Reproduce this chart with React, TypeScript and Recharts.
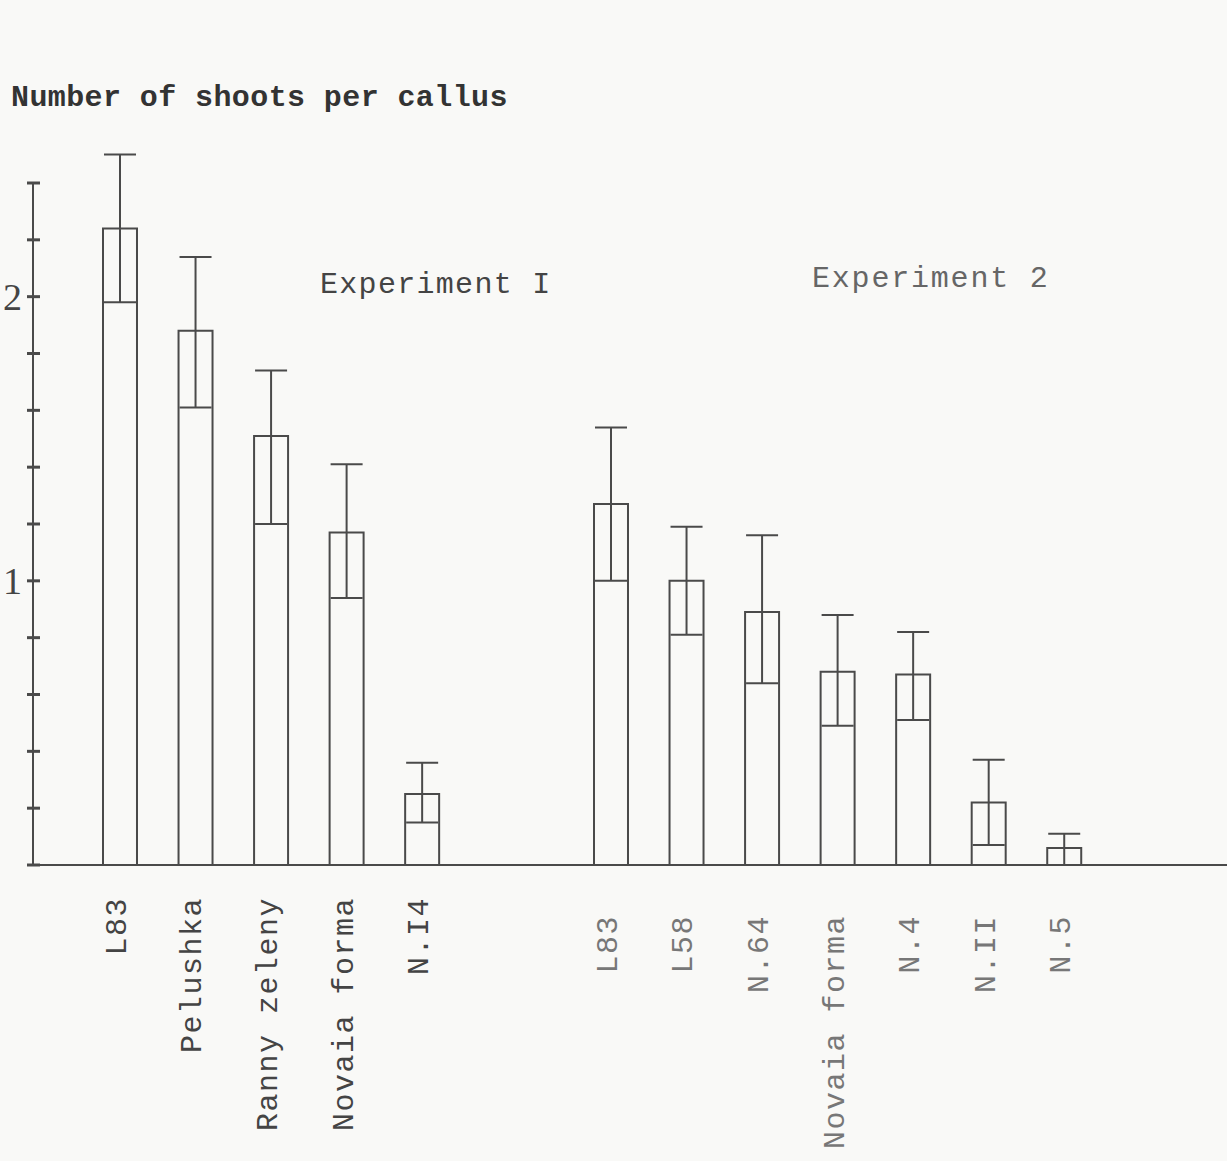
import { BarChart, Bar, XAxis, YAxis, ErrorBar, Customized } from "recharts"

const MONO = "'Liberation Mono', 'DejaVu Sans Mono', monospace"
const INK = "#4a4a4a"

// Experiment I
const EXP1_NAMES = ["L83", "Pelushka", "Ranny zeleny", "Novaia forma", "N.I4"]
const EXP1_MEAN = [2.24, 1.88, 1.51, 1.17, 0.25]
const EXP1_LOW = [1.98, 1.61, 1.2, 0.94, 0.15]
const EXP1_HIGH = [2.5, 2.14, 1.74, 1.41, 0.36]

// Experiment 2
const EXP2_NAMES = ["L83", "L58", "N.64", "Novaia forma", "N.4", "N.II", "N.5"]
const EXP2_MEAN = [1.27, 1.0, 0.89, 0.68, 0.67, 0.22, 0.06]
const EXP2_LOW = [1.0, 0.81, 0.64, 0.49, 0.51, 0.07, 0.0]
const EXP2_HIGH = [1.54, 1.19, 1.16, 0.88, 0.82, 0.37, 0.11]

const Y_TICKS = [0, 0.2, 0.4, 0.6, 0.8, 1, 1.2, 1.4, 1.6, 1.8, 2, 2.2, 2.4]
const Y_LABELS = [1, 2]

interface Row {
  name: string
  exp: number
  mean: number | null
  err: [number, number] | null
}

const spacer = (): Row => ({ name: "", exp: 0, mean: null, err: null })

const toRows = (names: string[], mean: number[], low: number[], high: number[], exp: number) =>
  names.map((name, i) => ({
    name,
    exp,
    mean: mean[i],
    err: [mean[i] - low[i], high[i] - mean[i]] as [number, number],
  }))

// bars sit on every other slot, with a wider gap between the two experiments
const rows: Row[] = []
toRows(EXP1_NAMES, EXP1_MEAN, EXP1_LOW, EXP1_HIGH, 1).forEach((r) => rows.push(r, spacer()))
rows.push(spacer(), spacer(), spacer())
toRows(EXP2_NAMES, EXP2_MEAN, EXP2_LOW, EXP2_HIGH, 2).forEach((r, i, a) => {
  rows.push(r)
  if (i < a.length - 1) rows.push(spacer())
})

function XTick(props: any) {
  const { x, payload } = props
  const row = rows[payload.index]
  if (!row || !row.name) return null
  const tx = x + 6
  const ty = row.exp === 1 ? 897 : 915
  return (
    <text
      x={tx}
      y={ty}
      transform={`rotate(-90, ${tx}, ${ty})`}
      textAnchor="end"
      fontFamily={MONO}
      fontSize={30}
      letterSpacing={1.5}
      fill={row.exp === 1 ? "#444" : "#777"}
    >
      {row.name}
    </text>
  )
}

function YTick(props: any) {
  const { x, y, payload } = props
  return (
    <g>
      <line x1={x - 6} x2={x + 7} y1={y} y2={y} stroke={INK} strokeWidth={3} />
      {Y_LABELS.includes(payload.value) && (
        <text x={3} y={y + 13} fontFamily="'Liberation Serif', serif" fontSize={38} fill="#444">
          {payload.value}
        </text>
      )}
    </g>
  )
}

function Annotations() {
  return (
    <g fontFamily={MONO}>
      <text x={11} y={106} fontSize={30} fontWeight="bold" letterSpacing={0.4} fill="#333">
        Number of shoots per callus
      </text>
      <text x={320} y={293} fontSize={30} letterSpacing={1.3} fill="#444">
        Experiment I
      </text>
      <text x={812} y={287} fontSize={30} letterSpacing={1.8} fill="#666">
        Experiment 2
      </text>
    </g>
  )
}

export default function App() {
  return (
    <div style={{ position: "absolute", left: 0, top: 0, width: 1227, height: 1161, background: "#f9f9f7" }}>
      <BarChart width={1227} height={1161} data={rows} margin={{ top: 183, right: 0, bottom: 0, left: 0 }}>
        <XAxis
          dataKey="name"
          interval={0}
          height={296}
          padding={{ left: 68, right: 144 }}
          tickLine={false}
          tickSize={0}
          tick={XTick}
          axisLine={{ stroke: INK, strokeWidth: 2 }}
        />
        <YAxis
          width={33}
          domain={[0, 2.4]}
          allowDataOverflow
          ticks={Y_TICKS}
          interval={0}
          tickLine={false}
          tickSize={0}
          tickMargin={0}
          tick={YTick}
          axisLine={{ stroke: INK, strokeWidth: 2 }}
        />
        <Bar dataKey="mean" barSize={38} fill="none" stroke={INK} strokeWidth={2} isAnimationActive={false}>
          <ErrorBar dataKey="err" width={16} stroke={INK} strokeWidth={2} direction="y" isAnimationActive={false} />
        </Bar>
        <Customized component={Annotations} />
      </BarChart>
    </div>
  )
}
